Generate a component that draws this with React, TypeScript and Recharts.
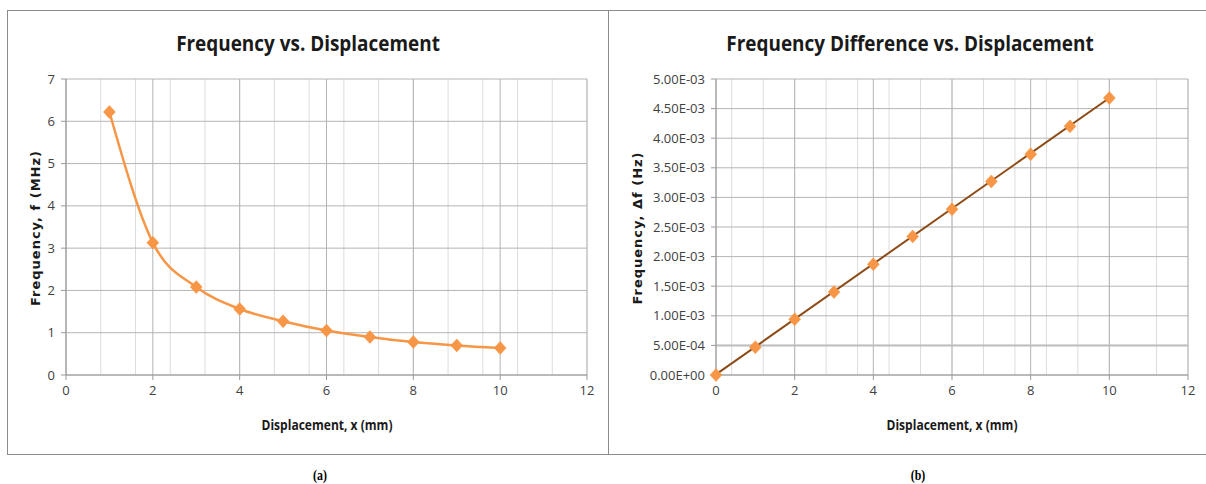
import React from 'react';
import { LineChart, Line, XAxis, YAxis, CartesianGrid, ReferenceLine } from 'recharts';

// Panel (a): frequency vs displacement
const dispA = [1, 2, 3, 4, 5, 6, 7, 8, 9, 10];
const freqA = [6.22, 3.13, 2.08, 1.56, 1.27, 1.05, 0.9, 0.78, 0.7, 0.64];

// Panel (b): frequency difference vs displacement
const dispB = [0, 1, 2, 3, 4, 5, 6, 7, 8, 9, 10];
const diffB = [0.0, 0.00047, 0.00094, 0.0014, 0.00187, 0.00234, 0.0028, 0.00327, 0.00373, 0.0042, 0.00468];
// linear trendline endpoints
const trendX = [0, 10];
const trendY = [0.00001, 0.00468];

const xTicks = [0, 2, 4, 6, 8, 10, 12];
const yTicksA = [0, 1, 2, 3, 4, 5, 6, 7];
const yTicksB = [0, 0.0005, 0.001, 0.0015, 0.002, 0.0025, 0.003, 0.0035, 0.004, 0.0045, 0.005];
const minorX = Array.from({ length: 31 }, (_, i) => +(i * 0.4).toFixed(1));

const dataA = dispA.map((x, i) => ({ x, y: freqA[i] }));
const dataB = dispB.map((x, i) => ({ x, y: diffB[i] }));
const dataTrend = trendX.map((x, i) => ({ x, y: trendY[i] }));

const ORANGE = '#F79646';
const BROWN = '#8E4A14';
const font = "'Open Sans', sans-serif";

const Diamond = (props: any) => {
  const { cx, cy } = props;
  if (cx == null || cy == null) return null;
  return (
    <polygon
      points={`${cx},${cy - 6.5} ${cx + 6},${cy} ${cx},${cy + 6.5} ${cx - 6},${cy}`}
      fill={ORANGE}
      stroke={ORANGE}
      strokeWidth={0.5}
    />
  );
};

const fmtExp = (v: number) => {
  if (v === 0) return '0.00E+00';
  const [m, e] = v.toExponential(2).split('e');
  const n = parseInt(e, 10);
  const sign = n < 0 ? '-' : '+';
  return `${m}E${sign}${String(Math.abs(n)).padStart(2, '0')}`;
};

const tickStyle = { fontSize: 13, fill: '#404040', fontFamily: font };

const abs = (s: React.CSSProperties): React.CSSProperties => ({ position: 'absolute', ...s });

const titleStyle: React.CSSProperties = {
  fontFamily: font,
  fontWeight: 'bold',
  fontSize: 22,
  color: '#1a1a1a',
  whiteSpace: 'nowrap',
  transform: 'translate(-50%, -50%) scaleX(0.86)',
};
const xTitleStyle: React.CSSProperties = {
  fontFamily: font,
  fontWeight: 'bold',
  fontSize: 14,
  color: '#1a1a1a',
  whiteSpace: 'nowrap',
  transform: 'translate(-50%, -50%) scaleX(0.86)',
};
const yTitleStyle: React.CSSProperties = {
  fontFamily: "'DejaVu Sans', sans-serif",
  fontWeight: 'bold',
  fontSize: 13,
  letterSpacing: 1,
  color: '#1a1a1a',
  whiteSpace: 'nowrap',
  transform: 'translate(-50%, -50%) rotate(-90deg)',
};
const capStyle: React.CSSProperties = {
  fontFamily: "'Liberation Serif', serif",
  fontWeight: 'bold',
  fontSize: 14,
  color: '#000',
  transform: 'translate(-50%, -50%) scaleX(0.85)',
};

export default function App() {
  return (
    <div style={{ position: 'absolute', left: 0, top: 0, width: 1206, height: 484, background: '#fff', overflow: 'hidden' }}>
      {/* panel frames */}
      <div style={abs({ left: 7, top: 10, width: 602, height: 445, border: '1.5px solid #8c8c8c', boxSizing: 'border-box' })} />
      <div style={abs({ left: 608, top: 10, width: 610, height: 445, border: '1.5px solid #8c8c8c', boxSizing: 'border-box' })} />

      {/* chart (a) */}
      <div style={abs({ left: 7, top: 10 })}>
        <LineChart width={602} height={445} data={dataA} margin={{ top: 69, right: 22, bottom: 50, left: 0 }}>
          <CartesianGrid horizontal={false} verticalValues={minorX} stroke="#dcdcdc" strokeWidth={1} />
          <CartesianGrid horizontalValues={yTicksA} verticalValues={xTicks} stroke="#b4b4b4" strokeWidth={1} />
          <XAxis
            type="number"
            dataKey="x"
            domain={[0, 12]}
            ticks={xTicks}
            height={30}
            tick={tickStyle}
            tickSize={5}
            tickMargin={6}
            stroke="#9a9a9a"
          />
          <YAxis
            type="number"
            domain={[0, 7]}
            ticks={yTicksA}
            width={59}
            tick={tickStyle}
            tickSize={5}
            tickMargin={6}
            stroke="#9a9a9a"
          />
          <Line
            type="monotone"
            dataKey="y"
            stroke={ORANGE}
            strokeWidth={2.5}
            dot={<Diamond />}
            activeDot={false}
            isAnimationActive={false}
          />
        </LineChart>
      </div>

      {/* chart (b) */}
      <div style={abs({ left: 609, top: 10 })}>
        <LineChart width={597} height={445} margin={{ top: 69, right: 18, bottom: 50, left: 0 }}>
          <CartesianGrid horizontal={false} verticalValues={minorX} stroke="#dcdcdc" strokeWidth={1} />
          <CartesianGrid horizontalValues={yTicksB} verticalValues={xTicks} stroke="#b4b4b4" strokeWidth={1} />
          <ReferenceLine y={0.0005} stroke="#bdbdbd" strokeWidth={2} />
          <XAxis
            type="number"
            dataKey="x"
            domain={[0, 12]}
            ticks={xTicks}
            height={30}
            tick={tickStyle}
            tickSize={5}
            tickMargin={6}
            stroke="#9a9a9a"
            allowDuplicatedCategory={false}
          />
          <YAxis
            type="number"
            domain={[0, 0.005]}
            ticks={yTicksB}
            width={107}
            tick={tickStyle}
            tickFormatter={fmtExp}
            tickSize={5}
            tickMargin={6}
            stroke="#9a9a9a"
          />
          <Line
            data={dataB}
            type="linear"
            dataKey="y"
            stroke="none"
            strokeWidth={0}
            dot={<Diamond />}
            activeDot={false}
            isAnimationActive={false}
          />
          <Line
            data={dataTrend}
            type="linear"
            dataKey="y"
            stroke={BROWN}
            strokeWidth={2}
            dot={false}
            activeDot={false}
            isAnimationActive={false}
          />
        </LineChart>
      </div>

      {/* texts */}
      <div style={abs({ left: 308, top: 42, ...titleStyle })}>Frequency vs. Displacement</div>
      <div style={abs({ left: 910, top: 42, ...titleStyle })}>Frequency Difference vs. Displacement</div>
      <div style={abs({ left: 327, top: 424, ...xTitleStyle })}>Displacement, x (mm)</div>
      <div style={abs({ left: 952, top: 424, ...xTitleStyle })}>Displacement, x (mm)</div>
      <div style={abs({ left: 35, top: 228, ...yTitleStyle })}>Frequency, f (MHz)</div>
      <div style={abs({ left: 637, top: 228, ...yTitleStyle })}>Frequency, Δf (Hz)</div>
      <div style={abs({ left: 320, top: 476, ...capStyle })}>(a)</div>
      <div style={abs({ left: 918, top: 476, ...capStyle })}>(b)</div>
    </div>
  );
}
